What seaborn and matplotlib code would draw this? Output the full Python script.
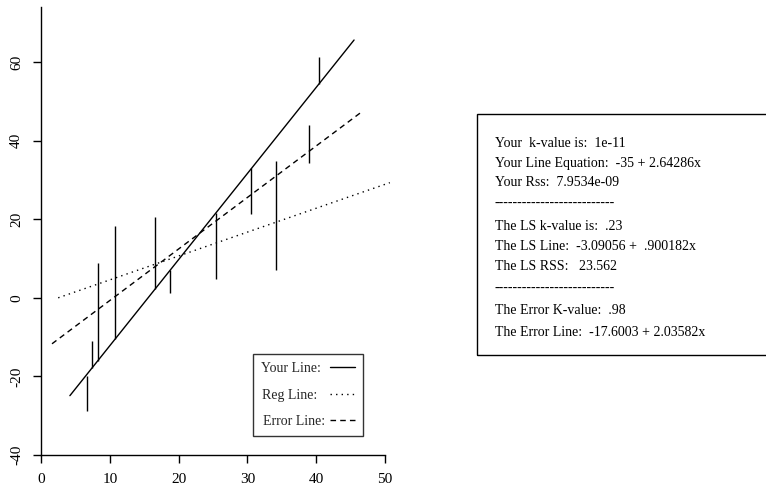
import matplotlib
matplotlib.use("Agg")
import matplotlib.pyplot as plt
import seaborn as sns
import pandas as pd
from matplotlib.patches import Rectangle

# fitted lines, endpoints
line_names = ["Your Line:", "Reg Line:", "Error Line:"]
line_x = [[4.2, 45.5], [2.5, 50.7], [1.6, 46.6]]
line_y = [[-24.9, 65.6], [0.0, 29.3], [-11.7, 47.3]]

# vertical residual / error segments
seg_x = [6.7, 7.4, 8.3, 10.7, 16.6, 18.75, 25.4, 30.5, 34.1, 39.0, 40.45]
seg_lo = [-28.8, -17.8, -16.0, -10.4, 2.3, 1.3, 4.8, 21.4, 7.1, 34.4, 54.4]
seg_hi = [-19.8, -10.9, 8.9, 18.3, 20.6, 7.1, 21.6, 33.1, 34.9, 44.0, 61.3]

x_ticks = [0, 10, 20, 30, 40, 50]
y_ticks = [-40, -20, 0, 20, 40, 60]

info_lines = [
    "Your  k-value is:  1e-11",
    "Your Line Equation:  -35 + 2.64286x",
    "Your Rss:  7.9534e-09",
    "-" * 26,
    "The LS k-value is:  .23",
    "The LS Line:  -3.09056 +  .900182x",
    "The LS RSS:   23.562",
    "-" * 26,
    "The Error K-value:  .98",
    "The Error Line:  -17.6003 + 2.03582x",
]
info_y = [143, 163, 183, 203, 226, 247, 267, 288, 311, 332]

sns.set_theme(style="ticks")
plt.rcParams["font.family"] = ["Liberation Serif", "DejaVu Serif"]
plt.rcParams["axes.unicode_minus"] = False

fig = plt.figure(figsize=(7.66, 4.91), dpi=100)
W, H = 766, 491
ax = fig.add_axes([41 / W, 1 - 455 / H, (391.9 - 41) / W, (455 - 7) / H])

styles = ["-", (0, (1, 3)), (0, (4, 3))]
for name, xs, ys, ls in zip(line_names, line_x, line_y, styles):
    df = pd.DataFrame({"x": xs, "y": ys})
    sns.lineplot(data=df, x="x", y="y", ax=ax, color="black", linestyle=ls,
                 linewidth=1.0, label=name)

ax.vlines(seg_x, seg_lo, seg_hi, color="black", linewidth=1.0)

ax.set_xlim(0, 51)
ax.set_ylim(-40, 74)
ax.set_xticks(x_ticks)
ax.set_yticks(y_ticks)
ax.set_xlabel("")
ax.set_ylabel("")
for s in ["top", "right"]:
    ax.spines[s].set_visible(False)
ax.spines["bottom"].set_bounds(0, 50)
for s in ["left", "bottom"]:
    ax.spines[s].set_color("black")
    ax.spines[s].set_linewidth(1.0)
ax.tick_params(axis="both", direction="out", length=6, width=1.0,
               colors="black", labelsize=11, pad=7)
plt.setp(ax.get_yticklabels(), rotation=90, va="center")

# labels padded so the text reads left-aligned like the original key
handles, labels = ax.get_legend_handles_labels()
padded = [lab + " " * n for lab, n in zip(labels, [2, 3, 1])]
leg = ax.legend(handles, padded, loc="upper left",
                bbox_to_anchor=((253 - 41) / 350.9, (455 - 354) / 448),
                markerfirst=False, frameon=True, fancybox=False, fontsize=10,
                handlelength=1.8, handletextpad=0.1, labelspacing=0.95,
                borderpad=0.6, borderaxespad=0)
leg.get_frame().set_edgecolor("black")
leg.get_frame().set_linewidth(1.0)

fig.patches.append(Rectangle((477 / W, 1 - 355 / H), (770 - 477) / W, (355 - 114) / H,
                             transform=fig.transFigure, fill=False,
                             edgecolor="black", linewidth=1.0, clip_on=False))
for txt, yp in zip(info_lines, info_y):
    fig.text(495 / W, 1 - yp / H, txt, fontsize=10, va="center", ha="left",
             color="black")

fig.savefig("out.png", dpi=100)
